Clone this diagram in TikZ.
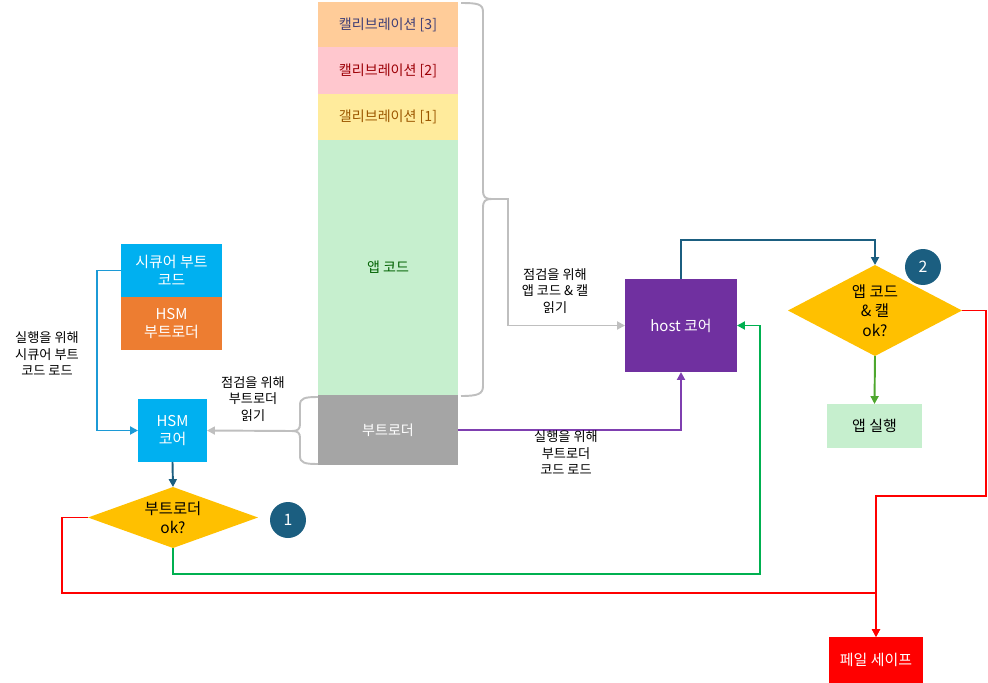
\documentclass[tikz,border=0pt]{standalone}
\usepackage{fontspec}
\setmainfont{Noto Sans CJK KR}
\usetikzlibrary{shapes.geometric, arrows.meta, positioning}

\definecolor{inputfill}{HTML}{FFCC99}
\definecolor{inputtext}{HTML}{3F3F76}
\definecolor{badfill}{HTML}{FFC7CE}
\definecolor{badtext}{HTML}{9C0006}
\definecolor{neutralfill}{HTML}{FFEB9C}
\definecolor{neutraltext}{HTML}{9C5700}
\definecolor{goodfill}{HTML}{C6EFCE}
\definecolor{goodtext}{HTML}{006100}
\definecolor{bootgray}{HTML}{A5A5A5}
\definecolor{hsmblue}{HTML}{00B0F0}
\definecolor{hsmorange}{HTML}{ED7D31}
\definecolor{hostpurple}{HTML}{7030A0}
\definecolor{decision}{HTML}{FFC000}
\definecolor{stepteal}{HTML}{1B5E80}
\definecolor{lineblue}{HTML}{1C9AD6}
\definecolor{linepurple}{HTML}{7F3FB0}
\definecolor{linegreen}{HTML}{00B050}
\definecolor{runlinegreen}{HTML}{4EA72E}
\definecolor{linegray}{HTML}{BFBFBF}

\begin{document}
\begin{tikzpicture}[
  x=0.02cm, y=-0.02cm,
  boxfont/.style={font=\fontsize{8.5pt}{10.5pt}\selectfont},
  mem/.style={minimum width=2.8cm, inner sep=0pt, outer sep=0pt,
              font=\fontsize{8pt}{10pt}\selectfont},
  blk/.style={inner sep=0pt, outer sep=0pt, align=center, boxfont},
  check/.style={diamond, fill=decision, inner sep=0pt, outer sep=0pt,
                align=center, font=\fontsize{8.8pt}{11pt}\selectfont},
  stepnum/.style={circle, fill=stepteal, text=white, minimum size=0.72cm,
                  inner sep=0pt, font=\fontsize{9pt}{10pt}\selectfont},
  art/.style={align=center, font=\fontsize{7.5pt}{9.4pt}\selectfont},
  tip/.style={-{Triangle[length=4.5pt, width=4.5pt]}},
  conn/.style={line width=1.1pt},
  bracel/.style={conn, draw=linegray}
]
  \useasboundingbox (0,0) rectangle (988,683);

  % memory map
  \node[mem, fill=inputfill, text=inputtext, minimum height=0.9cm,
        anchor=north] (cal3) at (388,2) {캘리브레이션 [3]};
  \node[mem, fill=badfill, text=badtext, minimum height=0.94cm,
        below=0pt of cal3] (cal2) {캘리브레이션 [2]};
  \node[mem, fill=neutralfill, text=neutraltext, minimum height=0.92cm,
        below=0pt of cal2] (cal1) {갤리브레이션 [1]};
  \node[mem, fill=goodfill, text=goodtext, minimum height=5.1cm,
        below=0pt of cal1] (app) {앱 코드};
  \node[mem, fill=bootgray, text=white, minimum height=1.4cm,
        below=0pt of app] (boot) {부트로더};

  % HSM side
  \node[blk, fill=hsmblue, text=white, minimum width=2.02cm,
        minimum height=1.06cm] (sbc) at (171.5,270.5) {시큐어 부트\\코드};
  \node[blk, fill=hsmorange, text=white, minimum width=2.02cm,
        minimum height=1.06cm, below=0pt of sbc] (hsmbl) {HSM\\부트로더};
  \node[blk, fill=hsmblue, text=white, minimum width=1.38cm,
        minimum height=1.26cm] (hsm) at (172.5,430.5) {HSM\\코어};
  \node[check, minimum width=3.4cm, minimum height=1.22cm, aspect=2.8]
    (bootok) at (173,517.5) {부트로더\\ok?};
  \node[stepnum] (n1) at (288,520) {1};

  % host side
  \node[blk, fill=hostpurple, text=white, minimum width=2.24cm,
        minimum height=1.86cm] (host) at (681,325.5) {host 코어};
  \node[check, minimum width=3.48cm, minimum height=1.82cm, aspect=1.9]
    (appok) at (875,310.5) {앱 코드\\\& 캘\\ok?};
  \node[stepnum] (n2) at (923,267) {2};
  \node[blk, fill=goodfill, minimum width=1.9cm,
        minimum height=0.88cm] (apprun) at (874.5,426) {앱 실행};
  \node[blk, fill=red, text=white, minimum width=1.88cm,
        minimum height=0.92cm] (failsafe) at (876,660) {페일 세이프};

  % braces
  \draw[bracel] (461,3) .. controls (478,3) and (483,4) .. (483,12)
    -- (483,190) .. controls (483,197) and (485,199) .. (492,199)
    .. controls (485,199) and (483,201) .. (483,208)
    -- (483,386) .. controls (483,394) and (478,396) .. (461,396);
  \coordinate (apptip) at (492,199);
  \draw[bracel] (318,397) .. controls (305,397) and (300,398) .. (300,405)
    -- (300,424) .. controls (300,429) and (298,431) .. (292,431)
    .. controls (298,431) and (300,433) .. (300,438)
    -- (300,456) .. controls (300,463) and (305,464) .. (318,464);
  \coordinate (boottip) at (292,431);

  % connectors
  \draw[conn, tip, linegray] (apptip) -- (508,199) |- (host.west);
  \draw[conn, tip, linegray] (boottip) -- (hsm.east);
  \draw[conn, tip, lineblue] (sbc.west) -- ++(-24,0) |- (hsm.west);
  \draw[conn, tip, stepteal] (hsm.south) -- (bootok.north);
  \draw[conn, tip, linepurple] (boot.east) -| (host.south);
  \draw[conn, tip, linegreen] (bootok.south) |- (760,574) |- (host.east);
  \draw[conn, tip, stepteal] (host.north) -- ++(0,-39) -| (appok.north);
  \draw[conn, tip, runlinegreen] (appok.south) -- (apprun.north);
  \draw[conn, tip, red] (bootok.west) -- ++(-26,0) |- (876,593)
    -- (failsafe.north);
  \draw[conn, tip, red] (appok.east) -- (986,310.5) |- (876,496)
    -- (failsafe.north);

  % labels
  \node[art] (lbl1) at (47,354) {실행을 위해\\시큐어 부트\\코드 로드};
  \node[art] (lbl2) at (253,399) {점검을 위해\\부트로더\\읽기};
  \node[art] (lbl3) at (555,291) {점검을 위해\\앱 코드 \& 캘\\읽기};
  \node[art] (lbl4) at (566,453) {실행을 위해\\부트로더\\코드 로드};
\end{tikzpicture}
\end{document}
